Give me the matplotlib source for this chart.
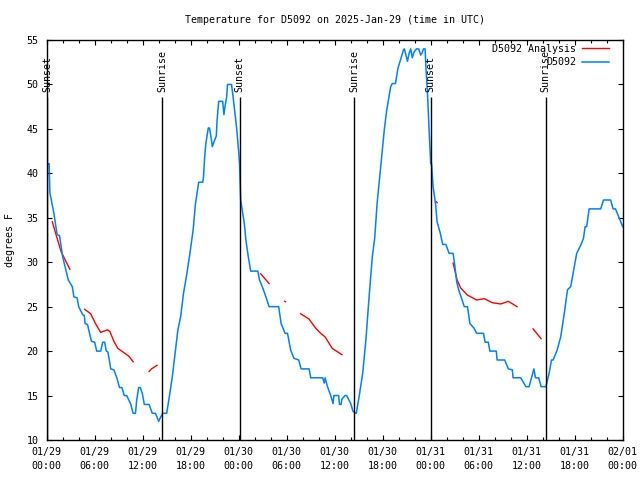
import matplotlib
matplotlib.use("Agg")
import matplotlib.pyplot as plt
import matplotlib.dates as mdates
import numpy as np
import pandas as pd

# hours since 2025-01-29 00:00 UTC, observed temperature (deg F)
obs_hours = [0.0, 0.3, 0.4, 0.9, 1.3, 1.6, 2.0, 2.5, 2.7, 3.2, 3.4, 3.8, 4.0, 4.5, 4.7, 4.8,
             5.1, 5.3, 5.6, 6.0, 6.25, 6.75, 7.0, 7.25, 7.45, 7.65, 7.9, 8.0, 8.4, 8.8, 9.1,
             9.4, 9.7, 10.0, 10.5, 10.8, 11.1, 11.25, 11.5, 11.7, 11.95, 12.2, 12.8, 13.2,
             13.6, 14.0, 14.2, 14.5, 15.0, 15.3, 15.7, 16.1, 16.4, 16.75, 17.1, 17.5, 17.9,
             18.3, 18.6, 19.0, 19.5, 19.6, 19.75, 19.9, 20.2, 20.35, 20.6, 20.7, 21.0, 21.2,
             21.3, 21.5, 22.0, 22.15, 22.3, 22.5, 22.6, 23.1, 23.3, 23.75, 24.0, 24.1,
             24.25, 24.5, 24.7, 24.9, 25.2, 25.5, 26.4, 26.6, 26.95, 27.4, 27.8, 29.0, 29.3,
             29.8, 30.1, 30.5, 30.9, 31.5, 31.8, 32.8, 33.0, 34.5, 34.7, 34.8, 35.1, 35.5,
             35.8, 35.9, 36.5, 36.6, 36.8, 36.9, 37.3, 37.5, 38.0, 38.3, 38.7, 39.0, 39.5,
             39.9, 40.3, 40.7, 41.0, 41.3, 41.75, 42.2, 42.5, 43.0, 43.2, 43.6, 43.9, 44.1,
             44.6, 44.7, 45.1, 45.3, 45.5, 45.7, 45.9, 46.2, 46.5, 46.75, 46.9, 47.1, 47.3,
             47.4, 47.6, 47.8, 48.0, 48.1,
             48.3, 48.6, 48.8, 49.2, 49.5, 49.9, 50.3, 50.8, 51.0, 51.25, 51.5, 51.8, 52.2,
             52.6, 52.9, 53.4, 53.75, 54.6, 54.8, 55.2, 55.4, 56.2, 56.3, 57.25, 57.7, 58.2,
             58.3, 59.25, 59.9, 60.3, 60.6, 60.9, 61.1, 61.5, 61.8, 62.4, 62.8, 63.1, 63.3,
             63.8, 64.25, 64.7, 65.1, 65.5, 65.8, 66.25, 66.75, 67.1, 67.3, 67.5, 67.8,
             69.25, 69.6, 70.5, 70.8, 71.1, 71.5, 71.9, 72.0]
obs_temps = [41.0, 41.1, 37.8, 35.5, 33.1, 33.0, 30.6, 28.75, 28.0, 27.25, 26.1, 26.0, 25.0,
             24.1, 24.0, 23.1, 23.0, 22.2, 21.1, 21.0, 20.0, 20.0, 21.0, 21.0, 20.0, 19.9,
             18.6, 18.0, 17.9, 16.9, 15.9, 15.9, 15.0, 15.0, 14.05, 13.0, 13.0, 14.5, 15.9,
             15.9, 15.25, 14.0, 14.0, 13.0, 13.0, 12.1, 12.5, 13.0, 13.0, 14.7, 17.1, 20.1,
             22.4, 23.9, 26.5, 28.6, 31.0, 33.6, 36.6, 39.0, 39.0, 39.6, 41.9, 43.4, 45.1,
             45.1, 43.75, 43.0, 43.75, 44.2, 46.0, 48.1, 48.1, 46.6, 47.6, 48.6, 50.0, 50.0,
             48.6, 45.0, 42.4, 41.1,
             37.0, 35.5, 34.4, 32.5, 30.6, 29.0, 29.0, 28.0, 27.25, 26.1, 25.0, 25.0, 23.1,
             22.0, 22.0, 20.1, 19.2, 19.0, 18.0, 18.0, 17.0, 17.0, 16.4, 17.0, 16.0, 15.0,
             14.1, 15.0, 15.0, 14.0, 14.0, 14.6, 15.0, 15.0, 14.1, 13.2, 13.0, 14.6, 17.5,
             21.25, 26.1, 30.6, 32.7, 36.6, 40.75, 44.9, 47.1, 49.75, 50.1, 50.1, 51.8, 52.4,
             53.9, 54.0, 52.6, 53.5, 54.0, 53.0, 53.6, 54.0, 54.0, 53.3, 53.5, 54.0, 54.0,
             52.0, 49.0, 44.9, 41.1, 41.1,
             38.5, 36.6, 34.55, 33.25, 32.0, 32.0, 31.0, 31.0, 29.7, 27.8, 26.9, 26.1, 25.0,
             25.0, 23.1, 22.6, 22.0, 22.0, 21.0, 21.0, 20.0, 20.0, 19.0, 19.0, 18.0, 17.9,
             17.0, 17.0, 16.0, 16.0, 17.0, 18.0, 17.0, 17.0, 16.0, 16.0, 17.5, 19.0, 19.0,
             20.1, 21.6, 24.25, 26.9, 27.25, 28.75, 31.0, 31.9, 32.7, 34.0, 34.0, 36.0,
             36.0, 37.0, 37.0, 36.0, 36.0, 35.1, 34.2, 34.0]

# analysis temperature, gaps as NaN
ana_hours = [0.7, 1.3, 1.8, 2.4, 2.9, np.nan,
             4.75, 5.5, 6.1, 6.75, 7.6, 7.9, 8.4, 8.9, 9.7, 10.3, 10.8, np.nan,
             12.8, 13.1, 13.8, np.nan,
             26.75, 27.8, np.nan,
             29.75, 29.85, np.nan,
             31.75, 32.8, 33.6, 34.25, 34.8, 35.7, 36.9, np.nan,
             48.7, 48.8, np.nan,
             50.8, 51.3, 51.75, 52.6, 53.75, 54.7, 55.7, 56.75, 57.7, 58.8, np.nan,
             60.8, 61.8]
ana_temps = [34.55, 32.7, 31.2, 30.1, 29.2, np.nan,
             24.7, 24.2, 23.1, 22.1, 22.4, 22.2, 21.1, 20.3, 19.8, 19.4, 18.8, np.nan,
             17.7, 18.0, 18.4, np.nan,
             28.7, 27.6, np.nan,
             25.6, 25.55, np.nan,
             24.2, 23.6, 22.6, 22.0, 21.6, 20.3, 19.6, np.nan,
             36.8, 36.7, np.nan,
             29.9, 28.0, 27.1, 26.3, 25.75, 25.9, 25.45, 25.3, 25.6, 25.0, np.nan,
             22.5, 21.4]

sunset_hours = [0.05, 24.1, 48.0]
sunrise_hours = [14.45, 38.4, 62.35]

start = pd.Timestamp("2025-01-29 00:00")


def to_time(hours):
    return start + pd.to_timedelta(np.array(hours, dtype=float), unit="h")


mono = "DejaVu Sans Mono"
fs = 7.2

fig = plt.figure(figsize=(6.4, 4.8), dpi=100)
ax = fig.add_axes([46.7 / 640, 40 / 480, 576 / 640, 400 / 480])

ax.plot(to_time(ana_hours), ana_temps, color="#ff0000", lw=1, label="D5092 Analysis")
ax.plot(to_time(obs_hours), obs_temps, color="#0080ff", lw=1.1, label="D5092")

for name, hrs in (("Sunset", sunset_hours), ("Sunrise", sunrise_hours)):
    for t in to_time(hrs):
        ax.vlines(t, 10, 48.6, color="black", lw=1)
        ax.text(t, 49.15, name, rotation=90, ha="center", va="bottom",
                family=mono, fontsize=fs, clip_on=False)

ax.set_xlim(to_time([0])[0], to_time([72])[0])
ax.set_ylim(10, 55)
ax.set_yticks(range(10, 56, 5))

ax.xaxis.set_major_locator(mdates.HourLocator(byhour=[0, 6, 12, 18]))
ax.xaxis.set_minor_locator(mdates.HourLocator(interval=2))
ax.xaxis.set_major_formatter(mdates.DateFormatter("%m/%d\n%H:%M"))

ax.tick_params(which="both", direction="in", top=True, right=True, width=0.8)
ax.tick_params(which="major", length=3.3, pad=5)
ax.tick_params(which="minor", length=2.0)
ax.tick_params(axis="y", pad=6)
for lab in ax.get_xticklabels() + ax.get_yticklabels():
    lab.set_family(mono)
    lab.set_fontsize(fs)
for lab in ax.get_xticklabels():
    lab.set_linespacing(1.45)
for sp in ax.spines.values():
    sp.set_linewidth(1.0)

ax.set_ylabel("degrees F", family=mono, fontsize=fs, labelpad=8)
ax.set_title("Temperature for D5092 on 2025-Jan-29 (time in UTC)",
             family=mono, fontsize=fs, pad=12)

leg = ax.legend(loc="upper right", bbox_to_anchor=(0.983, 1.0), markerfirst=False,
                frameon=False, prop={"family": mono, "size": fs}, handlelength=2.7,
                handletextpad=0.6, borderaxespad=0.0, labelspacing=0.35)

fig.savefig("out.png", dpi=100)
